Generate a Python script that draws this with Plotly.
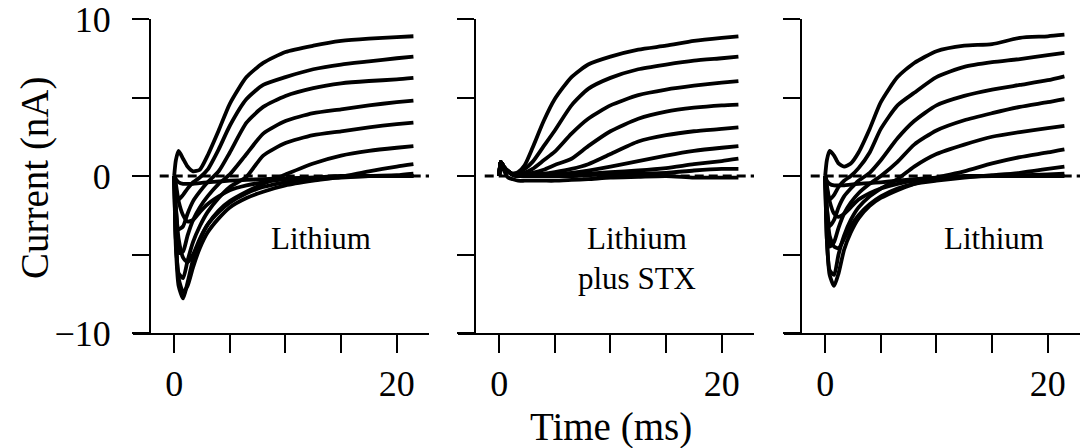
import plotly.graph_objects as go

# ---------------- data ----------------
time_ms = [0, 0.15, 0.4, 0.8, 1.2, 1.7, 2.3, 3, 4, 5, 6.5, 8, 10, 12.5, 15, 17.5, 20, 21.5]

# Panel 1: Lithium
lithium_a = [
    [0, 1.0, 1.6, 1.1, 0.6, 0.3, 0.4, 1.3, 2.9, 4.6, 6.3, 7.2, 7.9, 8.3, 8.6, 8.75, 8.85, 8.9],
    [0, -0.8, -1.5, -1.2, -0.8, -0.4, -0.1, 0.4, 1.7, 3.2, 4.9, 5.8, 6.3, 6.8, 7.1, 7.3, 7.5, 7.6],
    [0, -2.0, -3.4, -3.2, -2.4, -1.6, -1.0, -0.4, 0.3, 1.5, 3.4, 4.4, 5.1, 5.6, 5.9, 6.05, 6.15, 6.25],
    [0, -3.0, -4.9, -4.8, -3.8, -2.8, -2.0, -1.3, -0.5, 0.1, 1.4, 2.7, 3.5, 4.0, 4.25, 4.5, 4.7, 4.8],
    [0, -4.0, -6.2, -6.5, -5.4, -4.2, -3.2, -2.3, -1.4, -0.7, -0.05, 1.3, 2.1, 2.6, 2.85, 3.1, 3.3, 3.4],
    [0, -4.5, -7.0, -7.8, -6.8, -5.3, -4.1, -3.1, -2.2, -1.6, -1.0, -0.5, 0.1, 0.8, 1.3, 1.6, 1.8, 1.9],
    [0, -4.0, -6.5, -7.4, -7.0, -5.8, -4.6, -3.6, -2.7, -2.0, -1.4, -1.0, -0.6, -0.3, -0.05, 0.3, 0.6, 0.75],
    [0, -2.0, -4.0, -5.2, -5.5, -5.0, -4.0, -3.1, -2.3, -1.7, -1.1, -0.7, -0.4, -0.2, -0.1, 0.0, 0.05, 0.15],
    [0, -0.5, -1.6, -2.5, -2.9, -2.8, -2.3, -1.8, -1.3, -0.9, -0.6, -0.4, -0.2, -0.1, 0.0, 0.0, 0.0, 0.0],
    [0, -0.2, -0.4, -0.5, -0.5, -0.5, -0.45, -0.4, -0.35, -0.3, -0.25, -0.2, -0.15, -0.1, -0.05, 0, 0, 0],
]

# Panel 2: Lithium plus STX
lithium_stx = [
    [0, 0.9, 0.6, 0.3, 0.15, 0.25, 0.7, 1.8, 3.5, 4.9, 6.3, 7.1, 7.6, 8.05, 8.3, 8.6, 8.8, 8.9],
    [0, 0.9, 0.6, 0.3, 0.15, 0.2, 0.45, 0.9, 1.9, 2.9, 4.5, 5.55, 6.25, 6.8, 7.1, 7.35, 7.5, 7.6],
    [0, 0.9, 0.6, 0.3, 0.1, 0.1, 0.2, 0.45, 1.0, 1.55, 2.7, 3.65, 4.5, 5.15, 5.5, 5.75, 5.95, 6.05],
    [0, 0.9, 0.6, 0.3, 0.1, 0.05, 0.1, 0.2, 0.4, 0.7, 1.1, 1.9, 2.85, 3.65, 4.1, 4.35, 4.5, 4.55],
    [0, 0.9, 0.6, 0.3, 0.1, 0.0, 0.05, 0.1, 0.15, 0.25, 0.45, 0.75, 1.4, 2.2, 2.6, 2.85, 3.0, 3.1],
    [0, 0.9, 0.6, 0.3, 0.1, 0.0, 0.0, 0.05, 0.05, 0.1, 0.2, 0.35, 0.6, 0.95, 1.3, 1.6, 1.8, 1.9],
    [0, 0.9, 0.6, 0.3, 0.1, 0.0, 0.0, 0.0, 0.0, 0.05, 0.1, 0.15, 0.25, 0.35, 0.5, 0.75, 0.95, 1.1],
    [0, 0.9, 0.6, 0.3, 0.1, 0.0, 0.0, 0.0, 0.0, 0.0, 0.0, 0.05, 0.1, 0.15, 0.2, 0.35, 0.45, 0.45],
    [0, 0.9, 0.4, -0.1, -0.2, -0.3, -0.3, -0.3, -0.3, -0.3, -0.25, -0.2, -0.1, -0.05, 0.0, -0.1, -0.1, -0.1],
]

# Panel 3: Lithium (wash)
lithium_b = [
    [0, 1.0, 1.6, 1.3, 0.8, 0.6, 0.8, 1.5, 3.0, 4.7, 6.3, 7.2, 7.95, 8.3, 8.4, 8.8, 8.9, 9.0],
    [0, -0.8, -1.5, -1.2, -0.7, -0.3, 0.0, 0.5, 1.5, 3.0, 4.5, 5.3, 6.3, 6.95, 7.25, 7.45, 7.7, 7.85],
    [0, -2.0, -3.2, -2.8, -2.0, -1.3, -0.8, -0.3, 0.2, 1.0, 2.4, 3.5, 4.5, 5.1, 5.5, 5.8, 6.1, 6.35],
    [0, -3.0, -4.5, -4.2, -3.3, -2.4, -1.7, -1.1, -0.5, 0.0, 0.9, 2.0, 2.9, 3.55, 4.0, 4.4, 4.7, 4.9],
    [0, -4.0, -6.0, -6.3, -5.0, -3.8, -2.8, -2.0, -1.3, -0.8, -0.2, 0.6, 1.4, 2.0, 2.5, 2.8, 3.05, 3.2],
    [0, -4.0, -6.3, -7.0, -6.2, -4.7, -3.6, -2.7, -1.9, -1.4, -0.9, -0.5, -0.1, 0.3, 0.8, 1.2, 1.5, 1.7],
    [0, -2.0, -3.8, -4.5, -4.6, -4.0, -3.2, -2.5, -1.8, -1.3, -0.8, -0.5, -0.3, -0.1, 0.05, 0.2, 0.45, 0.6],
    [0, -0.6, -1.6, -2.4, -2.6, -2.4, -2.0, -1.5, -1.1, -0.8, -0.5, -0.3, -0.15, -0.05, 0.0, 0.05, 0.1, 0.15],
    [0, -0.3, -0.5, -0.6, -0.6, -0.6, -0.55, -0.5, -0.45, -0.4, -0.3, -0.2, -0.1, 0, 0, 0, 0, 0],
]

baseline_t = [-1.3, 23.0]
baseline_i = [0, 0]

x_tickvals = [0, 5, 10, 15, 20]
x_ticktext = ["0", "", "", "", "20"]
y_tickvals = [-10, -5, 0, 5, 10]
y_ticktext = ["\u221210", "", "0", "", "10"]

panel_labels = ["Lithium", "Lithium<br>plus STX", "Lithium"]
label_x = [13.2, 12.4, 15.2]
label_y = [-4.0, -5.25, -4.0]

# ---------------- figure ----------------
W, H = 1086, 448
FONT = "Liberation Serif"
fig = go.Figure()


def px_x(px):
    return px / W


def px_y(py):
    return 1 - py / H


panels = [lithium_a, lithium_stx, lithium_b]
x_left_px = [133, 458, 784]
yaxis_px = [150, 475, 801]
xr = [-3.7, 22.9]
y_dom = [px_y(333), px_y(19)]

for k, traces in enumerate(panels):
    xa = "x" if k == 0 else f"x{k+1}"
    ya = "y" if k == 0 else f"y{k+1}"
    fig.add_trace(go.Scatter(x=baseline_t, y=baseline_i, mode="lines", xaxis=xa, yaxis=ya,
                             line=dict(color="black", width=3.2, dash="9px,5px"),
                             hoverinfo="skip", showlegend=False))
    for tr in traces:
        fig.add_trace(go.Scatter(x=time_ms, y=tr, mode="lines", xaxis=xa, yaxis=ya,
                                 line=dict(color="black", width=3.8, shape="spline", smoothing=0.6),
                                 hoverinfo="skip", showlegend=False))

    dom = [px_x(x_left_px[k]), px_x(x_left_px[k] + 296)]
    xkey = "xaxis" if k == 0 else f"xaxis{k+1}"
    ykey = "yaxis" if k == 0 else f"yaxis{k+1}"
    fig.layout[xkey] = dict(
        domain=dom, anchor=ya, range=xr, showgrid=False, zeroline=False, automargin=False,
        showline=True, linecolor="black", linewidth=2,
        ticks="outside", ticklen=18, tickwidth=2, tickcolor="black",
        tickvals=x_tickvals, ticktext=x_ticktext, ticklabelstandoff=0,
        ticklabeloverflow="allow",
        tickfont=dict(family=FONT, size=36, color="black"),
    )
    fig.layout[ykey] = dict(
        domain=y_dom, anchor="free", position=px_x(yaxis_px[k]), range=[-10, 10],
        showgrid=False, zeroline=False, showline=True, linecolor="black", linewidth=2,
        automargin=False,
        ticks="outside", ticklen=17, tickwidth=2, tickcolor="black",
        tickvals=y_tickvals, ticktext=y_ticktext, showticklabels=(k == 0),
        ticklabelstandoff=14, ticklabeloverflow="allow",
        tickfont=dict(family=FONT, size=36, color="black"),
    )
    fig.add_annotation(x=label_x[k], y=label_y[k], xref=xa, yref=ya, text=panel_labels[k],
                       xanchor="center", yanchor="middle",
                       showarrow=False, font=dict(family=FONT, size=31, color="black"),
                       align="center")

fig.add_annotation(x=px_x(35), y=px_y(178), xref="paper", yref="paper", text="Current (nA)",
                   xanchor="center", yanchor="middle",
                   textangle=-90, showarrow=False, font=dict(family=FONT, size=39, color="black"))
fig.add_annotation(x=px_x(611), y=px_y(427), xref="paper", yref="paper", text="Time (ms)",
                   xanchor="center", yanchor="middle",
                   showarrow=False, font=dict(family=FONT, size=39, color="black"))

fig.update_layout(template="none", width=W, height=H, margin=dict(l=0, r=0, t=0, b=0),
                  paper_bgcolor="white", plot_bgcolor="white", showlegend=False)

fig.write_html("out.html", config={"displayModeBar": False, "staticPlot": True},
               post_script="document.body.style.margin='0px';document.body.style.overflow='hidden';")
